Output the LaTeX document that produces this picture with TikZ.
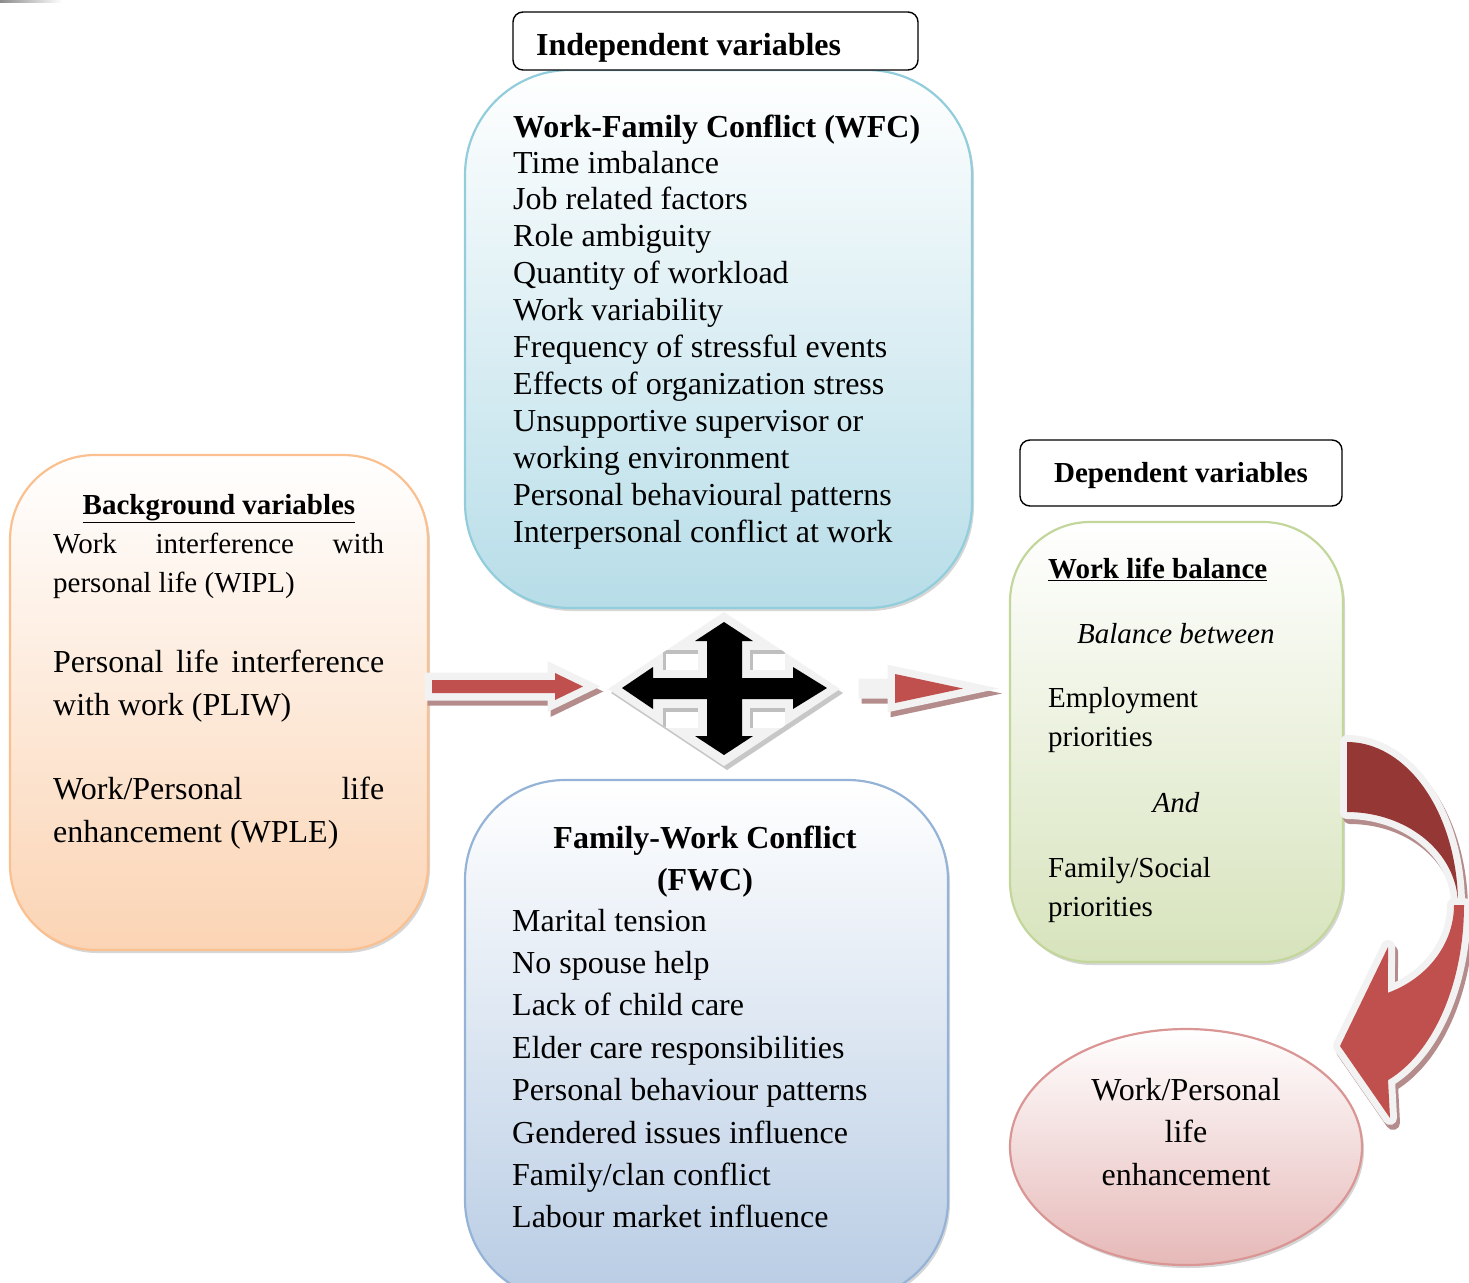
\documentclass[tikz,border=0pt]{standalone}
\usepackage{fontspec}
\setmainfont{Liberation Serif}
\usetikzlibrary{shapes.geometric,shadows}
\definecolor{offw}{RGB}{242,242,242}
\definecolor{redA}{RGB}{192,80,77}
\definecolor{redD}{RGB}{149,55,53}
\definecolor{shcol}{RGB}{180,140,140}
\definecolor{blueB}{RGB}{146,205,220}
\definecolor{blueF}{RGB}{183,221,232}
\definecolor{fwcB}{RGB}{149,179,215}
\definecolor{fwcF}{RGB}{184,204,228}
\definecolor{peachB}{RGB}{250,192,144}
\definecolor{peachF}{RGB}{251,212,180}
\definecolor{grnB}{RGB}{195,214,155}
\definecolor{grnF}{RGB}{215,227,188}
\definecolor{ellB}{RGB}{217,150,148}
\definecolor{ellF}{RGB}{230,185,184}
\begin{document}
\begin{tikzpicture}[x=1pt,y=-1pt,
  boxsh/.style={drop shadow={shadow xshift=2pt,shadow yshift=-3pt,fill=black,opacity=0.16}},
  vbox/.style={rectangle,inner sep=0,line width=2.2pt,boxsh},
  lbl/.style={rectangle,rounded corners=10pt,draw=black,line width=1.4pt,fill=white,inner sep=0},
  tx32/.style={inner sep=0,anchor=base west,font=\fontsize{32}{37}\selectfont},
  txb32/.style={tx32,font=\fontsize{32}{37}\selectfont\bfseries},
  tx29/.style={inner sep=0,anchor=base west,font=\fontsize{29}{35}\selectfont},
  txb29/.style={tx29,font=\fontsize{29}{35}\selectfont\bfseries},
  txi29/.style={tx29,font=\fontsize{29}{35}\selectfont\itshape}
]
\useasboundingbox (0,0) rectangle (1469,1282);
\fill[left color=black!45,right color=white] (0,0) rectangle (62,2.5);

% ---------- boxes ----------
\node[vbox,rounded corners=85pt,minimum width=418pt,minimum height=495pt,draw=peachB,top color=white,bottom color=peachF] (bgbox) at (219,702.5) {};
\node[vbox,rounded corners=105pt,minimum width=507pt,minimum height=538pt,draw=blueB,top color=white,bottom color=blueF] (wfcbox) at (718.5,339) {};
\node[vbox,rounded corners=100pt,minimum width=483pt,minimum height=520pt,draw=fwcB,top color=white,bottom color=fwcF] (fwcbox) at (706.5,1040) {};
\node[vbox,rounded corners=80pt,minimum width=333pt,minimum height=440pt,draw=grnB,top color=white,bottom color=grnF] (wlbbox) at (1176.5,742) {};
\node[ellipse,inner sep=0,line width=2.2pt,boxsh,minimum width=352pt,minimum height=236pt,draw=ellB,top color=white,bottom color=ellF] (wple) at (1186,1147) {};
\node[lbl,minimum width=405pt,minimum height=58pt] (indep) at (715.5,41) {};
\node[lbl,minimum width=322pt,minimum height=66pt] (dep) at (1181,473) {};

% ---------- straight block arrows ----------
\def\larrow{(432,680) -- (555,680) -- (555,673) -- (583,686.5) -- (555,700) -- (555,693) -- (432,693) -- cycle}
\def\rarrow{(866,686) -- (895,686) -- (895,674) -- (963,688.5) -- (895,703) -- (895,691) -- (866,691) -- cycle}
\draw[shcol,fill=shcol,line width=15pt,line join=miter,shift={(3,5)}] \larrow;
\draw[offw,fill=offw,line width=15pt,line join=miter] \larrow;
\fill[redA] \larrow;
\draw[shcol,fill=shcol,line width=15pt,line join=miter,shift={(3,5)}] \rarrow;
\draw[offw,fill=offw,line width=15pt,line join=miter] \rarrow;
\fill[redA] (895,674) -- (963,688.5) -- (895,703) -- cycle;

% ---------- quad arrow ----------
\def\diam{(724,612) -- (840,689) -- (724,766) -- (608,689) -- cycle}
\fill[black!22,shift={(3,4)}] \diam;
\fill[offw] \diam;
\begin{scope}
\clip \diam;
\foreach \qx/\qy in {663/650,750/650,663/708,750/708}{
  \fill[black!25] (\qx,\qy) rectangle ++(35,20);
  \fill[white] (\qx+3,\qy+4) rectangle ++(32,16);
}
\end{scope}
\fill[black] (724,622) -- (753,641) -- (742,641) -- (742,678) -- (793,678) -- (793,667) -- (827,688)
  -- (793,709) -- (793,699) -- (742,699) -- (742,736) -- (753,736) -- (724,755) -- (695,736)
  -- (707,736) -- (707,699) -- (653,699) -- (653,709) -- (622,688) -- (653,667) -- (653,678)
  -- (707,678) -- (707,641) -- (695,641) -- cycle;

% ---------- curved arrow ----------
\def\cback{(1347,742) -- plot[domain=-90:0,samples=40] ({1347+111*cos(\x)},{905+163*sin(\x)}) -- plot[domain=0:-90,samples=40] ({1347+111*cos(\x)},{905+93*sin(\x)}) -- cycle}
\def\cfront{(1454,905) -- plot[domain=0:67.5,samples=40] ({1347+107*cos(\x)},{905+95*sin(\x)}) -- (1388,947) -- (1340,1046) -- (1390,1118) -- (1388,1080) -- plot[domain=69.5:0,samples=40] ({1347+117*cos(\x)},{905+187*sin(\x)}) -- cycle}
\draw[shcol,fill=shcol,line width=14pt,line join=round,shift={(3,5)}] \cback;
\draw[offw,fill=offw,line width=14pt,line join=round] \cback;
\fill[redD] \cback;
\draw[shcol,fill=shcol,line width=14pt,line join=round,shift={(3,5)}] \cfront;
\draw[offw,fill=offw,line width=14pt,line join=round] \cfront;
\fill[redA] \cfront;

% ---------- texts ----------
\node[txb32] (indeptx) at (536,55) {Independent variables};
\node[txb32] (wfctitle) at (513,137) {Work-Family Conflict (WFC)};
\foreach \t [count=\i] in {Time imbalance,Job related factors,Role ambiguity,Quantity of workload,Work variability,Frequency of stressful events,Effects of organization stress,Unsupportive supervisor or,working environment,Personal behavioural patterns,Interpersonal conflict at work}
  \node[tx32] (wfc\i) at (513,{173+36.9*(\i-1)}) {\t};

\node[txb29,anchor=base] (bgtitle) at (219,514) {\underline{Background variables}};
\node[tx29] (bg1) at (53,553) {\makebox[331pt]{Work\hfill interference\hfill with}};
\node[tx29] (bg2) at (53,592) {personal life (WIPL)};
\node[tx32] (bg3) at (53,672) {\makebox[331pt]{Personal\hfill life\hfill interference}};
\node[tx32] (bg4) at (53,715) {with work (PLIW)};
\node[tx32] (bg5) at (53,799) {\makebox[331pt]{Work/Personal\hfill life}};
\node[tx32] (bg6) at (53,842) {enhancement (WPLE)};

\node[txb32,anchor=base] (fwct1) at (705,848) {Family-Work Conflict};
\node[txb32,anchor=base] (fwct2) at (705,890) {(FWC)};
\foreach \t [count=\i] in {Marital tension,No spouse help,Lack of child care,Elder care responsibilities,Personal behaviour patterns,Gendered issues influence,{Family/clan conflict},Labour market influence}
  \node[tx32] (fwc\i) at (512,{931+42.4*(\i-1)}) {\t};

\node[txb29,anchor=base] (deptx) at (1181,482) {Dependent variables};
\node[txb29] (wlbtitle) at (1048,578) {\underline{Work life balance}};
\node[txi29] (bal) at (1077,643) {Balance between};
\node[tx29] (emp1) at (1048,707) {Employment};
\node[tx29] (emp2) at (1048,746) {priorities};
\node[txi29,anchor=base] (andtx) at (1176,812) {And};
\node[tx29] (fam1) at (1048,877) {Family/Social};
\node[tx29] (fam2) at (1048,916) {priorities};

\node[tx32,anchor=base] (el1) at (1186,1100) {Work/Personal};
\node[tx32,anchor=base] (el2) at (1186,1142) {life};
\node[tx32,anchor=base] (el3) at (1186,1185) {enhancement};
\end{tikzpicture}
\end{document}
